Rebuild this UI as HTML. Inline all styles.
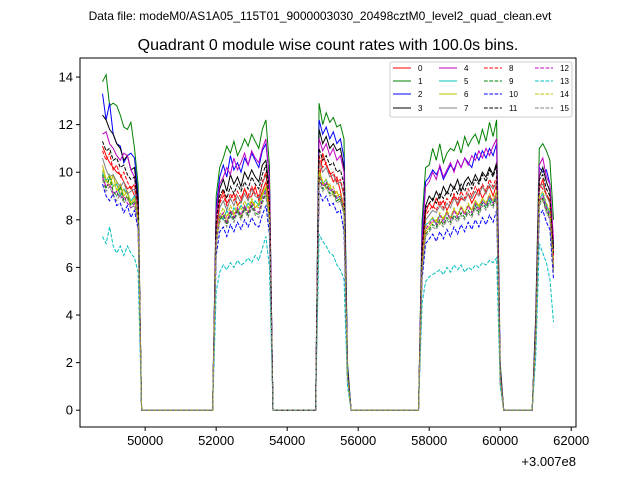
<!DOCTYPE html>
<html><head><meta charset="utf-8"><style>
body{margin:0;background:#fff;}
svg{display:block;font-family:"Liberation Sans","DejaVu Sans",sans-serif;}
</style></head><body>
<svg id="chart" width="640" height="480" viewBox="0 0 640 480">
<rect width="640" height="480" fill="#fff"/>
<text x="320" y="20" font-size="12" text-anchor="middle">Data file: modeM0/AS1A05_115T01_9000003030_20498cztM0_level2_quad_clean.evt</text>
<text x="328" y="50" font-size="16" text-anchor="middle">Quadrant 0 module wise count rates with 100.0s bins.</text>
<g id="plot"></g>
<g id="axes"></g>
<g id="legend"></g>
</svg>
<script>
const labels=["0","1","2","3","4","5","6","7","8","9","10","11","12","13","14","15"];
const colors=["#ff0000","#008000","#0000ff","#000000","#bf00bf","#00bfbf","#bfbf00","#808080"];
const xTicks=[50000,52000,54000,56000,58000,60000,62000];
const yTicks=[0,2,4,6,8,10,12,14];
const Z=n=>Array(n).fill(0);
const ch0=[11.1,10.7,10.4,10.2,10.0,9.9,9.6,9.3,9.4,9.0,8.6].concat(Z(21),[7.5,8.8,9.2,8.7,8.9,9.1,8.6,8.8,9.3,8.9,9.0,9.4,8.8,9.2,9.6,8.5],Z(13),[9.5,10.8,10.3,10.0,9.6,9.8,9.2,8.5,1.5],Z(20),[6.2,8.3,8.7,8.5,8.9,8.6,8.8,8.4,8.7,9.0,8.6,8.9,8.8,9.1,8.7,9.0,9.3,8.9,9.2,9.4,9.0,9.5,1.2],Z(9),[3.0,9.3,9.7,9.0,8.8,6.5]);
const ch1=[13.8,14.1,12.8,12.9,12.8,12.4,11.9,11.8,12.1,11.0,9.5].concat(Z(21),[9.0,10.2,10.6,11.1,10.8,11.3,10.7,11.0,11.4,11.1,11.6,11.3,11.0,11.8,12.2,10.3],Z(13),[12.9,12.0,12.5,12.1,12.3,11.9,12.0,11.4,2.0],Z(20),[8.0,10.2,10.3,11.0,10.5,11.2,10.4,10.8,11.0,10.9,11.3,10.8,11.5,11.1,11.4,11.6,11.2,11.8,11.3,12.1,11.5,12.2,2.0],Z(9),[4.0,11.0,11.2,10.9,10.5,8.0]);
const ch2=[13.3,12.2,12.9,11.6,11.2,11.1,10.4,10.7,10.8,10.6,9.0].concat(Z(21),[8.5,9.8,10.3,9.8,10.7,10.1,10.4,10.0,10.6,10.3,10.8,10.5,10.2,10.9,11.2,9.8],Z(13),[12.2,11.6,11.9,11.4,11.7,11.2,11.4,10.6,1.8],Z(20),[7.5,9.6,9.8,10.1,9.9,10.2,9.7,10.0,10.3,10.1,10.5,10.2,10.6,10.4,10.2,10.8,10.5,10.9,10.6,11.0,10.7,11.2,1.8],Z(9),[3.8,10.2,10.0,10.1,9.5,7.0]);
const ch3=[12.4,12.2,11.8,11.6,11.2,11.0,10.5,10.7,10.1,10.2,8.8].concat(Z(21),[8.2,9.3,9.7,9.2,9.9,9.5,9.8,9.4,10.0,9.7,10.1,9.8,9.6,10.3,10.5,9.3],Z(13),[11.8,11.2,11.5,11.0,11.2,10.9,11.0,10.2,1.7],Z(20),[7.0,8.6,9.0,8.8,9.2,8.9,9.4,9.1,9.5,9.3,9.7,9.2,9.6,9.8,9.5,9.9,9.6,10.0,9.8,10.2,9.9,10.4,1.7],Z(9),[3.6,9.8,10.2,9.6,9.2,6.8]);
const ch4=[11.6,11.7,11.2,11.0,10.7,10.5,10.8,10.7,10.1,9.8,8.5].concat(Z(21),[8.3,9.5,9.8,10.2,9.9,10.6,10.1,10.4,10.8,10.3,10.9,10.6,10.4,11.0,11.4,9.7],Z(13),[11.4,10.9,11.2,10.7,11.0,10.5,10.7,10.0,1.6],Z(20),[7.2,9.4,9.6,10.0,9.7,10.3,9.8,10.1,10.4,10.0,10.5,10.2,10.6,10.3,10.7,10.5,10.9,10.6,11.0,10.7,11.1,11.4,1.7],Z(9),[3.5,10.3,10.6,9.8,9.5,7.2]);
const ch5=[10.0,9.6,9.9,9.4,9.5,9.0,9.3,9.1,8.8,9.0,8.2].concat(Z(21),[7.0,8.2,8.0,8.4,8.1,8.5,8.3,8.6,8.4,8.7,8.5,8.8,8.6,9.0,9.3,8.0],Z(13),[9.9,9.5,9.7,9.3,9.1,8.9,9.0,8.4,1.4],Z(20),[6.0,7.8,7.9,8.1,7.8,8.2,8.0,8.3,8.1,8.4,8.2,8.5,8.3,8.6,8.4,8.7,8.5,8.8,8.6,8.9,8.7,9.1,1.4],Z(9),[3.0,8.9,9.1,8.6,8.3,6.0]);
const ch6=[10.3,9.7,9.4,9.9,9.2,9.5,9.0,9.2,8.7,8.9,8.0].concat(Z(21),[7.2,8.0,8.3,7.9,8.4,8.2,8.5,8.1,8.6,8.3,8.8,8.5,8.7,9.1,9.4,8.2],Z(13),[10.1,9.6,9.3,9.5,9.0,9.2,8.8,8.3,1.4],Z(20),[6.1,7.5,7.7,7.9,8.0,7.8,8.1,8.3,8.0,8.4,8.2,8.5,8.3,8.6,8.4,8.8,8.6,8.9,8.7,9.0,8.8,9.2,1.4],Z(9),[3.0,9.0,8.8,8.5,8.2,5.8]);
const ch7=[10.6,10.1,9.8,9.9,9.6,9.4,9.6,9.1,9.2,9.3,8.2].concat(Z(21),[7.4,8.5,8.8,8.4,8.9,8.6,9.0,8.7,9.1,8.8,9.3,9.0,8.9,9.5,9.9,8.5],Z(13),[10.5,10.0,10.2,9.8,9.9,9.5,9.6,9.0,1.5],Z(20),[6.4,8.0,8.2,8.4,8.3,8.6,8.4,8.7,8.5,8.9,8.7,9.0,8.8,9.1,8.9,9.2,9.0,9.4,9.1,9.5,9.3,9.6,1.5],Z(9),[3.2,9.4,9.5,9.0,8.7,6.2]);
const ch8=[10.9,10.5,10.8,10.1,10.3,9.8,10.0,9.6,9.3,9.5,8.4].concat(Z(21),[7.6,8.7,9.0,8.6,9.1,8.8,9.2,8.9,9.3,9.0,9.4,9.1,9.0,9.6,10.0,8.6],Z(13),[10.7,10.2,10.4,9.9,10.0,9.6,9.7,9.1,1.5],Z(20),[6.5,8.2,8.4,8.6,8.4,8.8,8.5,8.9,8.7,9.1,8.8,9.2,8.9,9.3,9.0,9.4,9.1,9.5,9.2,9.7,9.4,9.8,1.5],Z(9),[3.3,9.5,9.3,9.1,8.8,6.3]);
const ch9=[9.9,9.3,9.8,9.2,9.0,9.4,8.8,9.0,8.6,8.8,7.9].concat(Z(21),[7.0,8.0,8.2,7.8,8.3,8.0,8.4,8.1,8.5,8.2,8.6,8.3,8.2,8.8,9.1,7.9],Z(13),[9.8,9.3,9.5,9.1,9.2,8.8,8.9,8.3,1.4],Z(20),[5.9,7.4,7.6,7.8,7.7,8.0,7.8,8.1,7.9,8.2,8.0,8.3,8.1,8.4,8.2,8.6,8.3,8.7,8.5,8.8,8.6,9.0,1.4],Z(9),[3.0,8.7,8.9,8.4,8.1,5.9]);
const ch10=[9.5,9.0,8.8,9.1,8.6,8.7,8.3,8.6,8.1,8.4,7.6].concat(Z(21),[6.5,7.5,7.7,7.3,7.8,7.5,7.9,7.6,8.0,7.7,8.1,7.8,7.7,8.2,8.6,7.4],Z(13),[9.2,8.8,9.0,8.6,8.7,8.3,8.4,7.5,1.3],Z(20),[5.5,7.0,7.2,7.4,7.1,7.5,7.2,7.6,7.3,7.7,7.4,7.8,7.5,7.9,7.6,8.0,7.7,8.1,7.8,8.2,7.9,8.4,1.3],Z(9),[2.8,8.2,8.4,7.9,7.6,5.5]);
const ch11=[11.3,10.9,11.0,10.5,10.6,10.2,10.3,9.9,9.7,9.8,8.6].concat(Z(21),[7.9,9.0,9.3,8.9,9.4,9.1,9.5,9.2,9.6,9.3,9.8,9.5,9.3,9.9,10.3,8.8],Z(13),[11.0,10.5,10.7,10.3,10.4,10.0,10.1,9.5,1.6],Z(20),[6.8,8.5,8.7,8.9,8.7,9.1,8.9,9.2,9.0,9.4,9.1,9.5,9.2,9.6,9.3,9.7,9.5,9.9,9.6,10.1,9.8,10.3,1.6],Z(9),[3.4,9.7,9.9,9.3,9.0,6.6]);
const ch12=[9.8,9.4,9.5,9.1,9.2,8.9,9.0,8.7,8.5,8.7,7.8].concat(Z(21),[7.1,8.1,8.3,7.9,8.4,8.1,8.5,8.2,8.6,8.3,8.7,8.4,8.3,8.9,9.2,8.0],Z(13),[9.9,9.4,9.6,9.2,9.3,8.9,9.0,8.4,1.4],Z(20),[6.0,7.6,7.8,8.0,7.8,8.2,7.9,8.3,8.0,8.4,8.1,8.5,8.2,8.6,8.3,8.7,8.4,8.8,8.6,9.0,8.7,9.1,1.4],Z(9),[3.0,8.8,9.0,8.5,8.2,6.0]);
const ch13=[7.3,7.0,7.7,6.9,6.6,6.9,6.5,6.9,6.6,6.4,5.8].concat(Z(21),[5.0,5.8,6.1,5.9,6.2,6.0,6.3,6.1,6.2,6.4,6.2,6.5,6.3,6.8,7.3,6.0],Z(13),[7.4,7.1,6.9,6.6,6.5,6.1,5.9,5.5,1.0],Z(20),[4.5,5.4,5.6,5.7,5.8,5.9,5.7,6.0,5.8,6.1,5.9,6.1,5.8,6.0,5.9,6.1,6.0,6.2,6.1,6.3,6.2,6.4,1.0],Z(9),[2.2,7.0,6.6,6.2,5.5,3.7]);
const ch14=[10.1,9.6,9.9,9.4,9.6,9.1,9.3,8.9,8.7,8.9,8.0].concat(Z(21),[7.1,8.2,8.5,8.1,8.6,8.3,8.7,8.4,8.8,8.5,8.9,8.6,8.5,9.0,9.4,8.1],Z(13),[10.0,9.5,9.7,9.3,9.4,9.0,9.1,8.5,1.4],Z(20),[6.1,7.7,7.9,8.1,7.9,8.3,8.0,8.4,8.1,8.5,8.2,8.6,8.3,8.7,8.4,8.8,8.5,8.9,8.7,9.1,8.8,9.2,1.4],Z(9),[3.1,9.0,9.2,8.7,8.4,6.1]);
const ch15=[9.7,9.2,9.4,9.0,8.8,9.1,8.7,8.9,8.5,8.6,7.8].concat(Z(21),[6.9,7.9,8.1,7.7,8.2,7.9,8.3,8.0,8.4,8.1,8.5,8.2,8.1,8.7,9.0,7.8],Z(13),[9.6,9.2,9.4,9.0,9.1,8.7,8.8,8.2,1.4],Z(20),[5.8,7.3,7.5,7.7,7.6,7.9,7.7,8.0,7.8,8.1,7.9,8.2,8.0,8.3,8.1,8.5,8.2,8.6,8.4,8.7,8.5,8.9,1.4],Z(9),[2.9,8.6,8.8,8.3,8.0,5.8]);
const series=[ch0,ch1,ch2,ch3,ch4,ch5,ch6,ch7,ch8,ch9,ch10,ch11,ch12,ch13,ch14,ch15];
const tStart=48800, tStep=100;

const L=80,R=576,T=58,B=427;
const xMin=48165,xMax=62135,yMin=-0.705,yMax=14.8;
const X=t=>L+(t-xMin)/(xMax-xMin)*(R-L);
const Y=v=>B-(v-yMin)/(yMax-yMin)*(B-T);
const NS="http://www.w3.org/2000/svg";
function mk(tag,attrs,parent){const e=document.createElementNS(NS,tag);for(const k in attrs)e.setAttribute(k,attrs[k]);parent.appendChild(e);return e;}
const plot=document.getElementById('plot'),axes=document.getElementById('axes'),leg=document.getElementById('legend');
series.forEach((s,i)=>{
  const pts=s.map((v,j)=>X(tStart+j*tStep).toFixed(1)+','+Y(v).toFixed(1)).join(' ');
  const p=mk('polyline',{points:pts,fill:'none',stroke:colors[i%8],'stroke-width':1},plot);
  if(i>=8)p.setAttribute('stroke-dasharray','3.7,1.6');
  
  
});
const frame=mk('rect',{x:L,y:T,width:R-L,height:B-T,fill:'none',stroke:'#000','stroke-width':1},axes);


xTicks.forEach(t=>{
  const x=X(t);
  const tk=mk('line',{x1:x,x2:x,y1:B,y2:B+4,stroke:'#000'},axes);
  
  
  const tx=mk('text',{x:x,y:B+18,'font-size':13,'text-anchor':'middle'},axes);tx.textContent=t;
  
  
});
yTicks.forEach(v=>{
  const y=Y(v);
  const tk=mk('line',{x1:L-4,x2:L,y1:y,y2:y,stroke:'#000'},axes);
  
  
  const tx=mk('text',{x:L-7,y:y+4.5,'font-size':13,'text-anchor':'end'},axes);tx.textContent=v;
  
  
});
const off=mk('text',{x:R,y:466,'font-size':13,'text-anchor':'end'},axes);off.textContent='+3.007e8';


const lb=mk('rect',{x:390,y:62,width:182,height:55,rx:2,fill:'#fff',stroke:'#ccc','stroke-width':1},leg);


const colX=[393,439,484,535],rowY=[68,81,94,108];
labels.forEach((lab,i)=>{
  const c=Math.floor(i/4),r=i%4,x=colX[c],y=rowY[r];
  const g=mk('g',{},leg);
  
  
  const ln=mk('line',{x1:x,x2:x+18,y1:y,y2:y,stroke:colors[i%8],'stroke-width':1},g);
  if(i>=8)ln.setAttribute('stroke-dasharray','3.7,1.6');
  const tx=mk('text',{x:x+25,y:y+3,'font-size':8},g);tx.textContent=lab;
});
</script>
</body></html>
